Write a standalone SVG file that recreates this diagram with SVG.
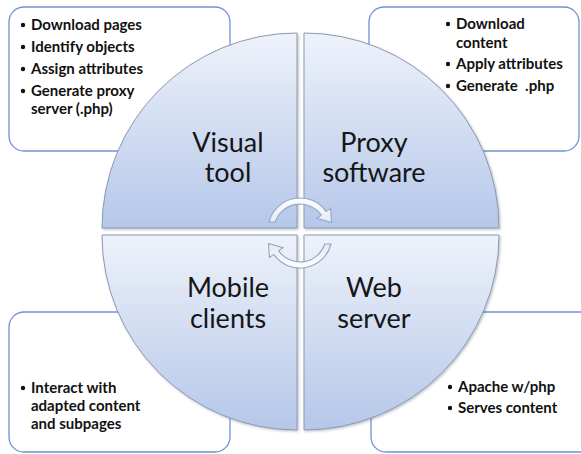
<svg xmlns="http://www.w3.org/2000/svg" width="581" height="454" viewBox="0 0 581 454">
  <defs>
    <linearGradient id="quadFill" x1="0" y1="0" x2="0" y2="1">
      <stop offset="0" stop-color="#eef2fa"/>
      <stop offset="1" stop-color="#b5c7e9"/>
    </linearGradient>
    <linearGradient id="arrowFill" x1="0" y1="0" x2="0" y2="1">
      <stop offset="0" stop-color="#ffffff"/>
      <stop offset="1" stop-color="#e3eaf5"/>
    </linearGradient>
    <filter id="shade" x="-5%" y="-5%" width="112%" height="112%">
      <feDropShadow dx="1.2" dy="1.2" stdDeviation="1" flood-color="#3a4660" flood-opacity="0.35"/>
    </filter>
  </defs>
  <style>
    .box { fill: #ffffff; stroke: #6f93cf; stroke-width: 1.3; }
    .quad { fill: url(#quadFill); stroke: #8e99b0; stroke-width: 1; filter: url(#shade); }
    .arrow { fill: url(#arrowFill); stroke: #97a5be; stroke-width: 1.1; }
    .dot { fill: #111111; }
    .item { font-family: Lato, "Liberation Sans", sans-serif; font-weight: bold; font-size: 15px; fill: #111111; }
    .label { font-family: Lato, "Liberation Sans", sans-serif; font-size: 27px; fill: #161616; text-anchor: middle; }
  </style>

  <rect width="581" height="454" fill="#ffffff"/>

  <!-- note boxes sit behind the circle -->
  <g id="notes-visual-tool">
    <rect class="box" x="9" y="7" width="221" height="144" rx="15"/>
    <circle class="dot" cx="23" cy="25" r="2.2"/><text class="item" x="31" y="30">Download pages</text>
    <circle class="dot" cx="23" cy="47" r="2.2"/><text class="item" x="31" y="52">Identify objects</text>
    <circle class="dot" cx="23" cy="69" r="2.2"/><text class="item" x="31" y="74">Assign attributes</text>
    <circle class="dot" cx="23" cy="91" r="2.2"/><text class="item" x="31" y="96">Generate proxy</text>
    <text class="item" x="31" y="114">server (.php)</text>
  </g>

  <g id="notes-proxy-software">
    <rect class="box" x="369" y="7" width="210" height="144" rx="15"/>
    <circle class="dot" cx="448" cy="24" r="2.2"/><text class="item" x="456" y="29">Download</text>
    <text class="item" x="456" y="48">content</text>
    <circle class="dot" cx="448" cy="64" r="2.2"/><text class="item" x="456" y="69">Apply attributes</text>
    <circle class="dot" cx="448" cy="86" r="2.2"/><text class="item" x="456" y="91" xml:space="preserve">Generate  .php</text>
  </g>

  <g id="notes-mobile-clients">
    <rect class="box" x="9" y="312" width="221" height="140" rx="15"/>
    <circle class="dot" cx="23" cy="388" r="2.2"/><text class="item" x="31" y="393">Interact with</text>
    <text class="item" x="31" y="411">adapted content</text>
    <text class="item" x="31" y="429">and subpages</text>
  </g>

  <g id="notes-web-server">
    <rect class="box" x="371" y="312" width="225" height="140" rx="15"/>
    <circle class="dot" cx="450" cy="387" r="2.2"/><text class="item" x="458" y="392">Apache w/php</text>
    <circle class="dot" cx="450" cy="408" r="2.2"/><text class="item" x="458" y="413">Serves content</text>
  </g>

  <!-- four quadrants of the cycle -->
  <g id="visual-tool">
    <path class="quad" d="M297,228 H102 A195,195 0 0 1 297,33 Z"/>
    <text class="label" x="228" y="152">Visual</text>
    <text class="label" x="228" y="182">tool</text>
  </g>

  <g id="proxy-software">
    <path class="quad" d="M304,228 V33 A195,195 0 0 1 499,228 Z"/>
    <text class="label" x="374" y="152">Proxy</text>
    <text class="label" x="374" y="182">software</text>
  </g>

  <g id="mobile-clients">
    <path class="quad" d="M297,235 H102 A195,195 0 0 0 297,430 Z"/>
    <text class="label" x="228" y="297">Mobile</text>
    <text class="label" x="228" y="328">clients</text>
  </g>

  <g id="web-server">
    <path class="quad" d="M304,235 H499 A195,195 0 0 1 304,430 Z"/>
    <text class="label" x="374" y="297">Web</text>
    <text class="label" x="374" y="328">server</text>
  </g>

  <!-- circular arrows at the centre -->
  <g id="connectors">
    <path id="cycle-arrow" class="arrow" d="M269,222 A32,32 0 0 1 326.2,211.6 L330.5,208.6 L331.5,222.5 L317,218.2 L321.3,215.1 A26,26 0 0 0 275.3,222 Z"/>
    <use href="#cycle-arrow" transform="rotate(180 300 233)"/>
  </g>
</svg>
